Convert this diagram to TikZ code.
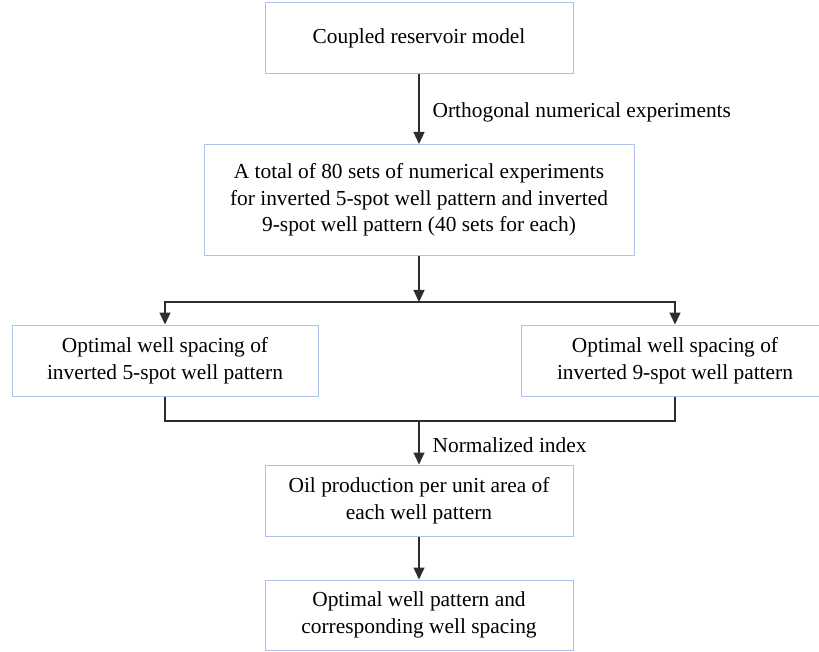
\documentclass[tikz,border=0pt]{standalone}
\usepackage{fontspec}
\setmainfont{Liberation Serif}
\usetikzlibrary{arrows.meta, positioning, calc}
\definecolor{boxblue}{RGB}{172,192,236}
\definecolor{linegray}{RGB}{45,45,45}

\tikzset{
  stagebox/.style={draw=boxblue, line width=1pt, fill=white, align=center,
    inner sep=0pt, font=\fontsize{21.4}{26.5}\selectfont},
  flow/.style={draw=linegray, line width=1.3pt,
    -{Triangle[width=11pt,length=12pt]}},
  joint/.style={draw=linegray, line width=1.3pt},
  tag/.style={font=\fontsize{21.4}{26.5}\selectfont, right, inner sep=0pt}
}

\begin{document}
\begin{tikzpicture}[x=1pt, y=-1pt]
  \useasboundingbox (0,0) rectangle (819,652);
  \clip (0,0) rectangle (819,652);

  \node[stagebox, minimum width=308pt, minimum height=71pt] (model) at (419,38.5)
    {Coupled reservoir model};
  \node[stagebox, minimum width=430pt, minimum height=111pt] (total) at (419,200)
    {A total of 80 sets of numerical experiments\\
     for inverted 5-spot well pattern and inverted\\
     9-spot well pattern (40 sets for each)};
  \node[stagebox, minimum width=306pt, minimum height=71pt] (five) at (165,360.5)
    {Optimal well spacing of\\inverted 5-spot well pattern};
  \node[stagebox, minimum width=308pt, minimum height=71pt] (nine) at (675,360.5)
    {Optimal well spacing of\\inverted 9-spot well pattern};
  \node[stagebox, minimum width=308pt, minimum height=71pt] (oil) at (419,500.5)
    {Oil production per unit area of\\each well pattern};
  \node[stagebox, minimum width=308pt, minimum height=70pt] (best) at (419,615)
    {Optimal well pattern and\\corresponding well spacing};

  \coordinate (split) at (419,302);
  \coordinate (merge) at (419,421);

  \draw[flow] (model) -- (total)
    node[tag, midway, xshift=13pt, yshift=-3pt] {Orthogonal numerical experiments};
  \draw[flow] (total) -- (split);
  \draw[flow] (split) -| (five);
  \draw[flow] (split) -| (nine);
  \draw[joint] (five) |- (merge);
  \draw[joint] (nine) |- (merge);
  \draw[flow] (merge) -- (oil)
    node[tag, midway, xshift=13pt, yshift=-2pt] {Normalized index};
  \draw[flow] (oil) -- (best);
\end{tikzpicture}
\end{document}
